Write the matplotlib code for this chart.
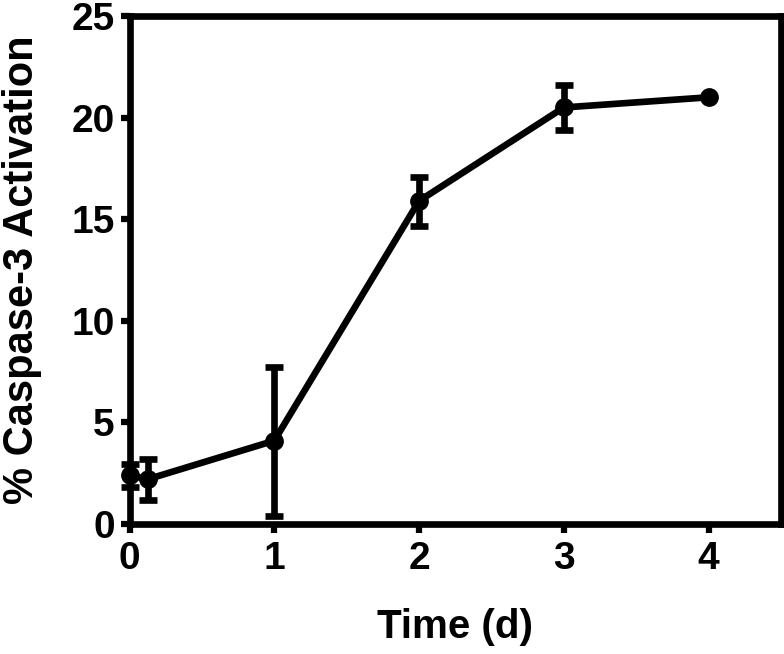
import numpy as np
import matplotlib.pyplot as plt

plt.rcParams['font.family'] = ['Liberation Sans', 'DejaVu Sans']
plt.rcParams['font.weight'] = 'bold'

# days after treatment
time_d = [0, 0.125, 1, 2, 3, 4]
activation = [2.4, 2.2, 4.1, 15.9, 20.5, 21.0]
err_low = [0.6, 1.0, 3.7, 1.25, 1.1]
err_high = [0.55, 1.0, 3.65, 1.2, 1.1]

fig = plt.figure(figsize=(7.84, 6.54), dpi=100)
ax = fig.add_axes([0.1652, 0.1988, 0.831, 0.7767])

lw = 4.8
ax.plot(time_d, activation, color='black', lw=lw, marker='o', ms=12.5,
        clip_on=False, zorder=3)
# last time point has no error bar
ax.errorbar(time_d[:5], activation[:5], yerr=[err_low, err_high], fmt='none',
            ecolor='black', elinewidth=lw, capsize=6.5, capthick=lw,
            clip_on=False, zorder=3)

ax.set_xlim(0, 4.5)
ax.set_ylim(0, 25)
ax.set_xticks([0, 1, 2, 3, 4])
ax.set_yticks([0, 5, 10, 15, 20, 25])
ax.tick_params(direction='out', length=6.5, width=4.5, labelsize=28)
ax.tick_params(axis='y', pad=4)
ax.tick_params(axis='x', pad=6)
for lab in ax.get_xticklabels() + ax.get_yticklabels():
    lab.set_fontweight('bold')
for sp in ax.spines.values():
    sp.set_linewidth(4.8)

ax.set_xlabel('Time (d)', fontsize=29, fontweight='bold', labelpad=22)
ax.set_ylabel('% Caspase-3 Activation', fontsize=30, fontweight='bold', labelpad=21)

fig.savefig('out.png', dpi=100)
